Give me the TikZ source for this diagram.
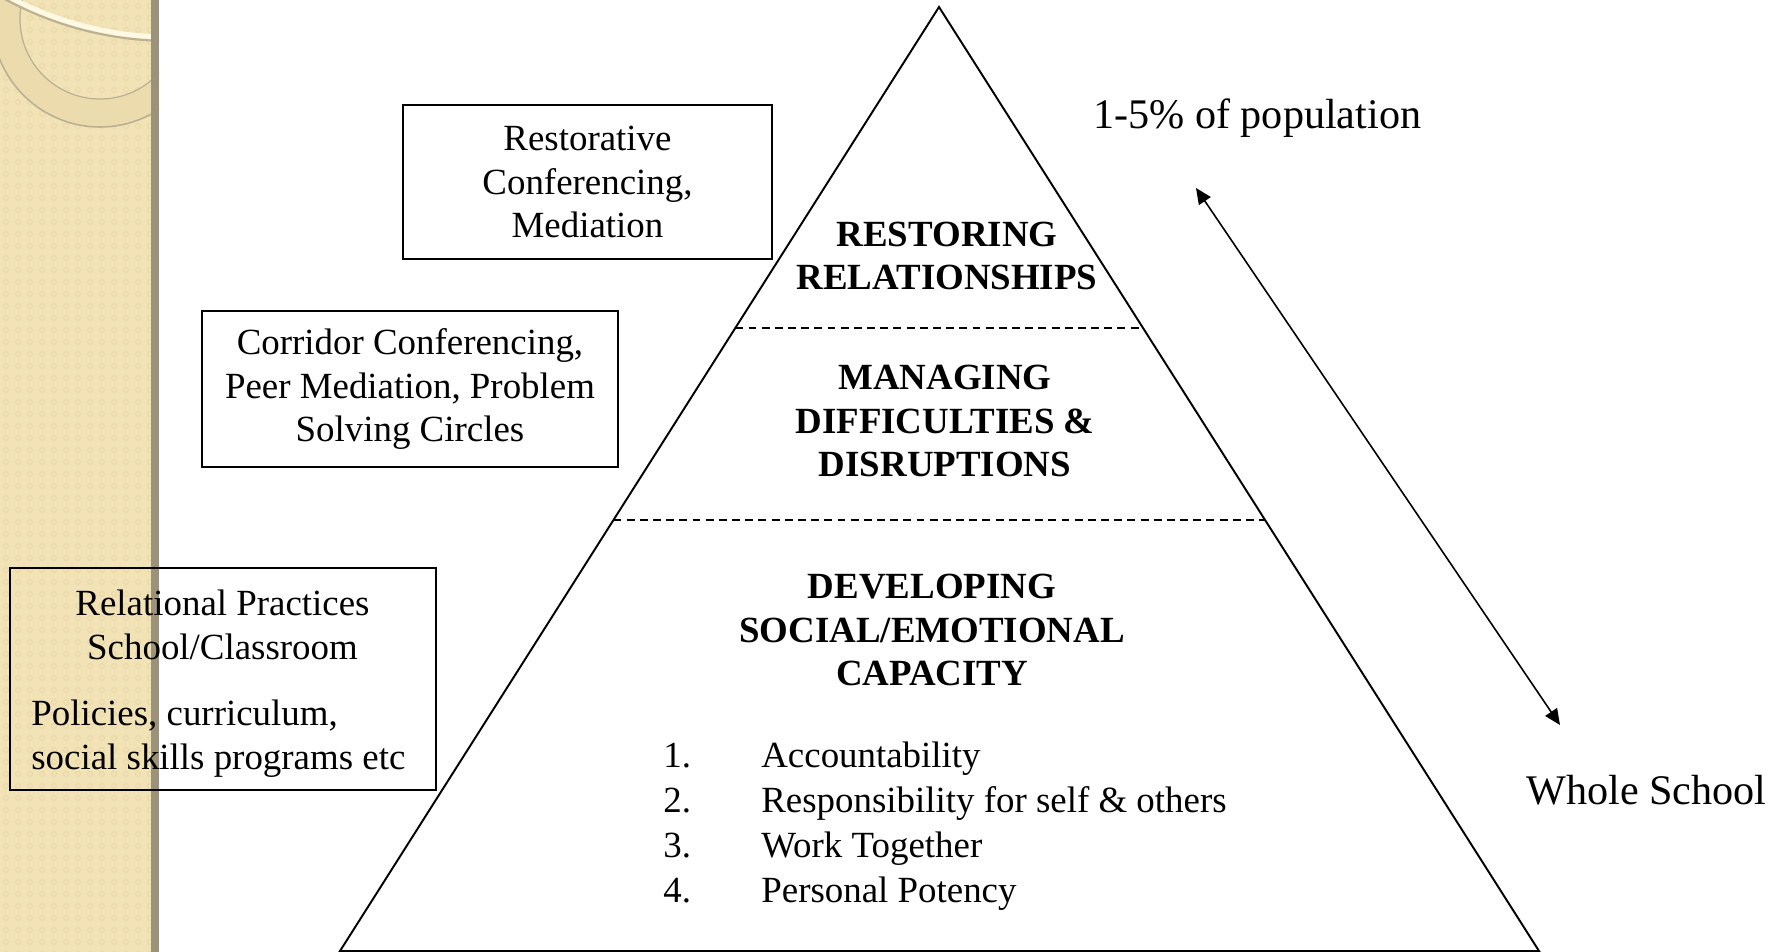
\documentclass[tikz,border=0pt]{standalone}
\usepackage{fontspec}
\setmainfont{Liberation Serif}
\usepackage{tikz}
\usetikzlibrary{arrows.meta, positioning, calc}
\definecolor{strip}{RGB}{242,227,183}
\definecolor{stripdot}{RGB}{233,216,168}
\definecolor{stripedge}{RGB}{156,146,121}
\definecolor{ringband}{RGB}{236,219,172}
\definecolor{ringline}{RGB}{186,176,148}
\definecolor{ringlight}{RGB}{255,249,228}

\begin{document}
\begin{tikzpicture}[x=0.02cm, y=-0.02cm,
    every node/.style={inner sep=0pt, font=\fontsize{21}{25}\selectfont},
    infobox/.style={draw, line width=0.8pt, align=center},
    layer/.style={align=center, font=\fontsize{21}{25}\selectfont\bfseries},
    reach/.style={anchor=base west, font=\fontsize{24}{29}\selectfont},
    divider/.style={line width=0.8pt, dash pattern=on 4.5pt off 3pt}]
    \useasboundingbox (0,0) rectangle (1782,952);

    % side strip with its rings
    \fill[strip] (0,0) rectangle (151,952);
    \foreach \i in {0,...,12}
        \foreach \j in {0,...,79}
            \draw[stripdot, line width=0.6pt] (\i*12+6,\j*12+6) circle[radius=2.5];
    \begin{scope}
        \clip (0,0) rectangle (159,952);
        \draw[ringband, line width=15.9pt] (100,19) circle[radius=94];
        \draw[ringline, line width=0.7pt] (100,19) circle[radius=80];
        \draw[ringline, line width=0.9pt] (100,19) circle[radius=108];
        \draw[ringline, line width=1.2pt] (170,-305) circle[radius=346];
        \draw[ringlight, line width=2.8pt] (170,-305) circle[radius=342];
    \end{scope}
    \fill[stripedge] (151,0) rectangle (159,952);

    % pyramid
    \coordinate (apex) at (939,7);
    \coordinate (baseL) at (340,951);
    \coordinate (baseR) at (1539,951);
    \draw[line width=1.1pt] (baseL) -- (apex) -- (baseR) -- cycle;
    \draw[divider] ($(apex)!0.34!(baseL)$) -- ($(apex)!0.34!(baseR)$);
    \draw[divider] ($(apex)!0.5434!(baseL)$) -- ($(apex)!0.5434!(baseR)$);

    \node[layer] (restoring) at (947,256) {RESTORING\\RELATIONSHIPS};
    \node[layer] (managing) at (945,421) {MANAGING\\DIFFICULTIES \&\\DISRUPTIONS};
    \node[layer] (developing) at (932,630) {DEVELOPING\\SOCIAL/EMOTIONAL\\CAPACITY};

    \foreach \skill [count=\k] in {Accountability, Responsibility for self \& others, Work Together, Personal Potency} {
        \node[anchor=base west] (num\k) at (663,{767+45.3*(\k-1)}) {\k.};
        \node[anchor=base west] (skill\k) at (761,{767+45.3*(\k-1)}) {\skill};
    }

    % practice boxes
    \node[infobox, minimum width=369*0.02cm, minimum height=154*0.02cm] (conf) at (587.5,182)
        {Restorative\\Conferencing,\\Mediation};
    \node[infobox, minimum width=416*0.02cm, minimum height=156*0.02cm] (corridor) at (410,389)
        {Corridor Conferencing,\\Peer Mediation, Problem\\Solving Circles};
    \node[draw, line width=0.8pt, minimum width=426*0.02cm, minimum height=222*0.02cm] (relbox) at (223,679) {};
    \node[align=center] (relhead) at (222.5,625) {Relational Practices\\School/Classroom};
    \node[align=left, anchor=west] (relnote) at (31,739) {Policies, curriculum,\\social skills programs etc};

    % reach of each level
    \node[reach] (few) at (1093,129) {1-5\% of population};
    \node[reach] (whole) at (1526,804) {Whole School};
    \coordinate (upTip) at (1196,188);
    \coordinate (downTip) at (1560,725);
    \draw[{Triangle[length=9pt,width=8pt]}-{Triangle[length=9pt,width=8pt]}, line width=0.9pt] (upTip) -- (downTip);
\end{tikzpicture}
\end{document}
